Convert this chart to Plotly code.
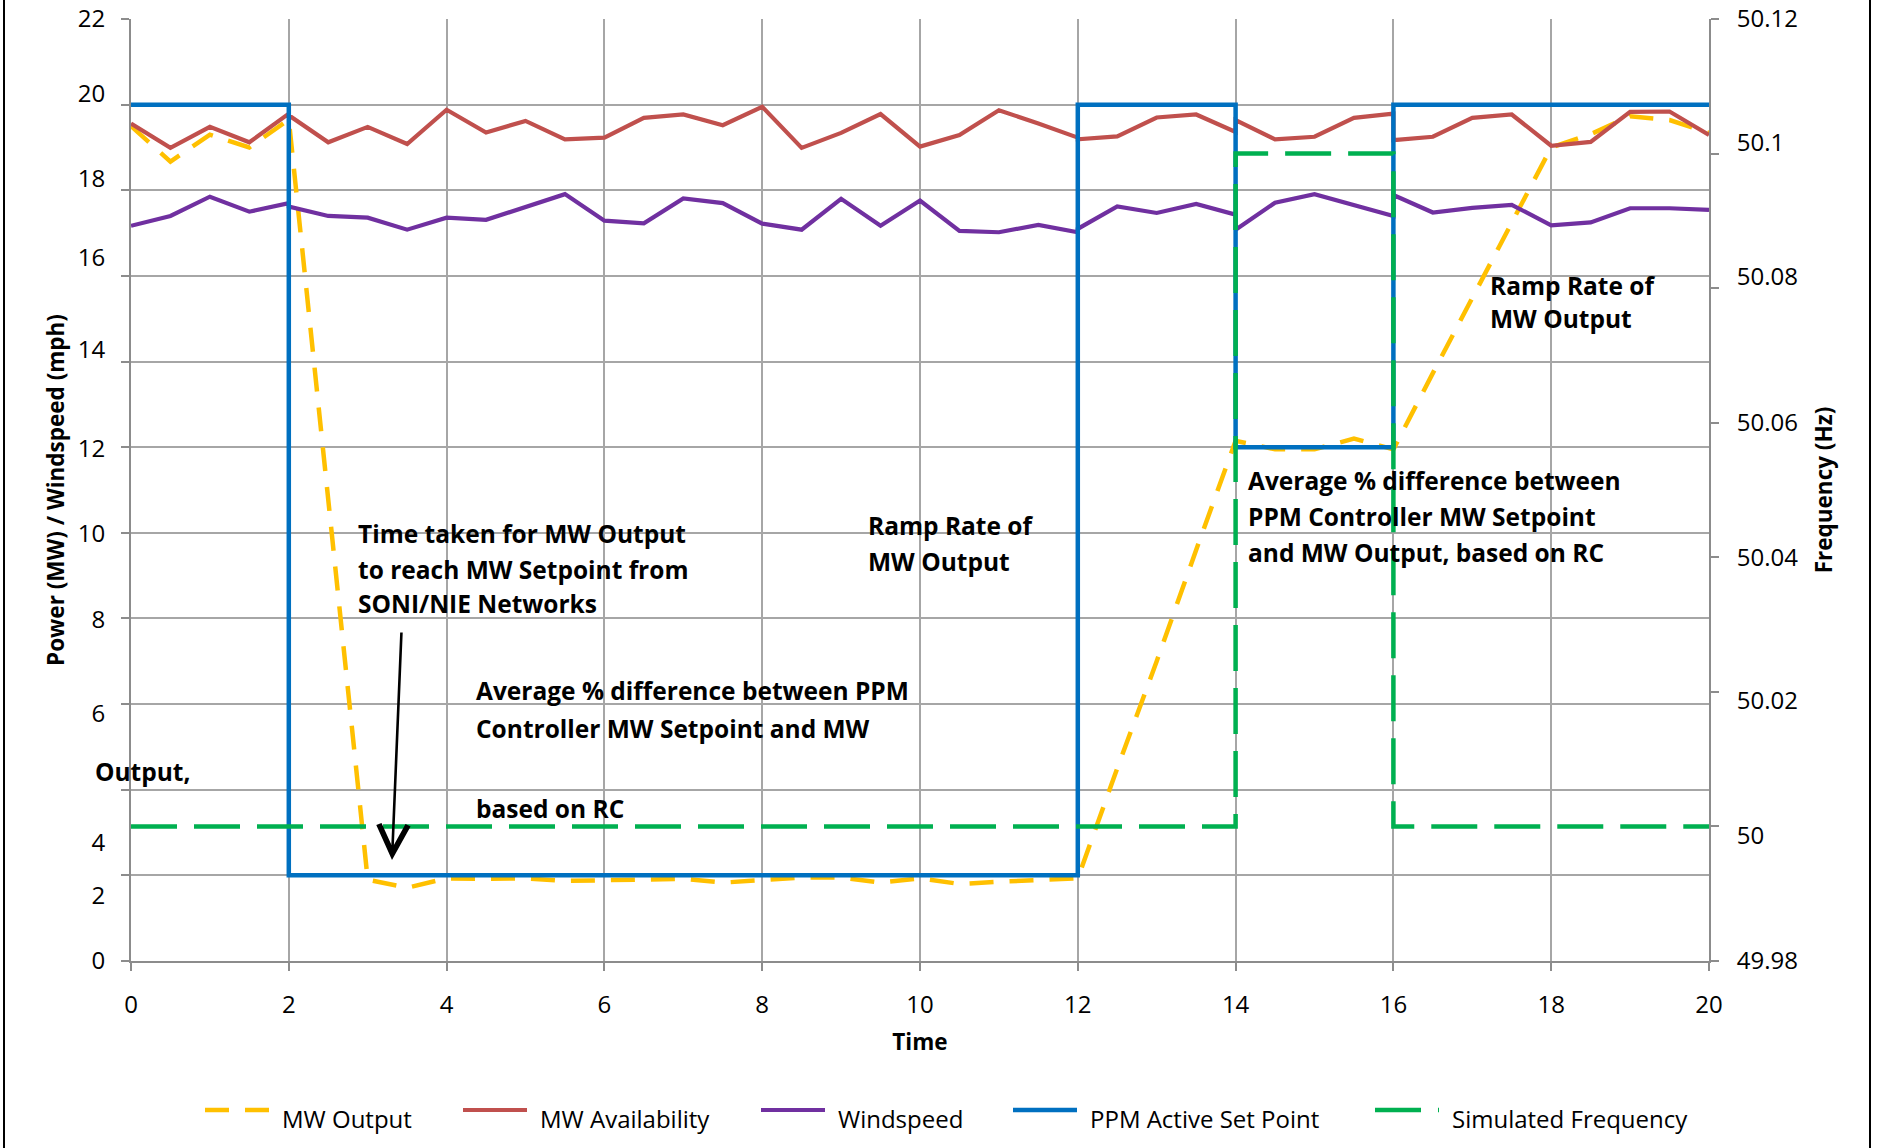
import plotly.graph_objects as go

# ---------------- data ----------------
time = [0, 0.5, 1, 1.5, 2, 2, 2.5, 3, 3.5, 4, 4.5, 5, 5.5, 6, 6.5, 7, 7.5, 8, 8.5, 9,
        9.5, 10, 10.5, 11, 11.5, 12, 12, 12.5, 13, 13.5, 14, 14, 14.5, 15, 15.5, 16, 16,
        16.5, 17, 17.5, 18, 18.5, 19, 19.5, 20]

mw_output = [19.50, 18.67, 19.30, 19.00, 19.65, 19.65, 10.80, 1.90, 1.71, 1.93, 1.92,
             1.93, 1.87, 1.89, 1.91, 1.92, 1.83, 1.89, 1.95, 1.95, 1.83, 1.93, 1.80, 1.85,
             1.89, 1.93, 1.93, 4.50, 7.00, 9.60, 12.15, 12.15, 11.95, 11.95, 12.20, 11.95,
             11.95, 13.73, 15.49, 17.20, 19.00, 19.31, 19.73, 19.64, 19.34]

mw_availability = [19.56, 18.99, 19.48, 19.12, 19.79, 19.75, 19.12, 19.48, 19.08, 19.88,
                   19.35, 19.62, 19.19, 19.23, 19.69, 19.77, 19.52, 19.95, 18.99, 19.34,
                   19.78, 19.02, 19.29, 19.87, 19.56, 19.23, 19.19, 19.26, 19.70, 19.77,
                   19.36, 19.64, 19.19, 19.25, 19.69, 19.79, 19.17, 19.25, 19.69, 19.77,
                   19.04, 19.13, 19.83, 19.84, 19.29]

windspeed = [17.17, 17.40, 17.85, 17.50, 17.70, 17.62, 17.40, 17.36, 17.08, 17.36, 17.31,
             17.60, 17.91, 17.29, 17.23, 17.81, 17.70, 17.22, 17.08, 17.80, 17.17, 17.76,
             17.05, 17.02, 17.19, 17.02, 17.10, 17.62, 17.47, 17.68, 17.43, 17.08, 17.71,
             17.91, 17.66, 17.40, 17.89, 17.48, 17.59, 17.66, 17.18, 17.25, 17.58, 17.58,
             17.54]

ppm_set_point = [20, 20, 20, 20, 20, 2, 2, 2, 2, 2, 2, 2, 2, 2, 2, 2, 2, 2, 2, 2, 2, 2, 2,
                 2, 2, 2, 20, 20, 20, 20, 20, 12, 12, 12, 12, 12, 20, 20, 20, 20, 20, 20,
                 20, 20, 20]

simulated_frequency = [50, 50, 50, 50, 50, 50, 50, 50, 50, 50, 50, 50, 50, 50, 50, 50, 50,
                       50, 50, 50, 50, 50, 50, 50, 50, 50, 50, 50, 50, 50, 50, 50.1, 50.1,
                       50.1, 50.1, 50.1, 50, 50, 50, 50, 50, 50, 50, 50, 50]

x_ticks = [0, 2, 4, 6, 8, 10, 12, 14, 16, 18, 20]
y_ticks = [0, 2, 4, 6, 8, 10, 12, 14, 16, 18, 20, 22]
y_tick_labels = ["0", "2", "4", "6", "8", "10", "12", "14", "16", "18", "20", "22"]
freq_ticks = [49.98, 50, 50.02, 50.04, 50.06, 50.08, 50.1, 50.12]
freq_tick_labels = ["49.98", "50", "50.02", "50.04", "50.06", "50.08", "50.1", "50.12"]

series_names = ["MW Output", "MW Availability", "Windspeed", "PPM Active Set Point",
                "Simulated Frequency"]

# ---------------- styling / layout ----------------
W, H = 1877, 1148
ML, MR, MT, MB = 131, 168, 19, 187
PW, PH = W - ML - MR, H - MT - MB
X_RANGE = [0, 20]
Y_RANGE = [0, 22]
F_RANGE = [49.98, 50.12]
FONT = "Open Sans"
GRID = "#A6A6A6"
AXLINE = "#8C8C8C"

# the source picture prints its tick labels slightly off their gridlines (pixels, + = down)
left_label_shift_px = [0, 20, 53, 10, 1, 1, 1, -12, -18, -12, -11, 0]
right_label_shift_px = [0, 9, 9, 0, 0, -12, -11, 0]

colors = ["#FFC000", "#C0504D", "#7030A0", "#0070C0", "#00B050"]
dashes = ["24px,16px", "solid", "solid", "solid", "46px,17px"]
widths = [4.5, 4.2, 4.2, 4.5, 4.5]
values = [mw_output, mw_availability, windspeed, ppm_set_point, simulated_frequency]
axes = ["y", "y", "y", "y", "y2"]


def px_x(p):
    return (p - ML) / PW


def px_y(p):
    return (H - MB - p) / PH


def data_x(p):
    return X_RANGE[0] + px_x(p) * (X_RANGE[1] - X_RANGE[0])


def data_y(p):
    return Y_RANGE[0] + px_y(p) * (Y_RANGE[1] - Y_RANGE[0])


fig = go.Figure()
for name, vals, c, d, w, ax in zip(series_names, values, colors, dashes, widths, axes):
    fig.add_trace(go.Scatter(x=time, y=vals, name=name, mode="lines", yaxis=ax,
                             line=dict(color=c, dash=d, width=w), showlegend=False))

# empty traces so that the label-only overlay axes get drawn
for ax in ("y3", "y4"):
    fig.add_trace(go.Scatter(x=[], y=[], yaxis=ax, mode="lines", showlegend=False,
                             hoverinfo="skip"))

# ---------------- annotations ----------------
BOLD = dict(family=FONT, size=24.5, color="black", weight=700)
text_lines = [
    ("Time taken for MW Output", 356, 533),
    ("to reach MW Setpoint from", 356, 569),
    ("SONI/NIE Networks", 356, 603),
    ("Ramp Rate of", 866, 525),
    ("MW Output", 866, 561),
    ("Average % difference between PPM", 474, 690),
    ("Controller MW Setpoint and MW", 474, 728),
    ("Output,", 93, 771),
    ("based on RC", 474, 808),
    ("Average % difference between", 1246, 480),
    ("PPM Controller MW Setpoint", 1246, 516),
    ("and MW Output, based on RC", 1246, 552),
    ("Ramp Rate of", 1488, 285),
    ("MW Output", 1488, 318),
]
annotations = []
for t, xp, yp in text_lines:
    annotations.append(dict(text=t, x=px_x(xp), y=px_y(yp), xref="paper", yref="paper",
                            xanchor="left", yanchor="middle", showarrow=False, font=BOLD))

# arrow pointing at the MW setpoint
annotations.append(dict(text="", x=data_x(392), y=data_y(860), xref="x", yref="y",
                        ax=data_x(401.5), ay=data_y(631), axref="x", ayref="y",
                        showarrow=True, arrowhead=5, arrowsize=2.2, arrowwidth=2.6,
                        arrowcolor="black", standoff=0, startstandoff=0))

# legend row
legend_x = [205, 463, 761, 1013, 1375]
legend_y = 1110
shapes = []
for name, c, d, w, lx in zip(series_names, colors, dashes, widths, legend_x):
    shapes.append(dict(type="line", xref="paper", yref="paper",
                       x0=px_x(lx), x1=px_x(lx + 64), y0=px_y(legend_y), y1=px_y(legend_y),
                       line=dict(color=c, dash=d, width=w)))
    annotations.append(dict(text=name, x=px_x(lx + 75), y=px_y(1118), xref="paper",
                            yref="paper", xanchor="left", yanchor="middle", showarrow=False,
                            font=dict(family=FONT, size=24, color="black")))

# outer frame lines
for xp in (4, 1870):
    shapes.append(dict(type="line", xref="paper", yref="paper", x0=px_x(xp), x1=px_x(xp),
                       y0=px_y(0), y1=px_y(H), line=dict(color="black", width=2)))

tickfont = dict(family=FONT, size=24, color="black")
titlefont = dict(family=FONT, size=22.5, color="black", weight=700)
y_per_px = (Y_RANGE[1] - Y_RANGE[0]) / PH
f_per_px = (F_RANGE[1] - F_RANGE[0]) / PH
left_label_pos = [v - s * y_per_px for v, s in zip(y_ticks, left_label_shift_px)]
right_label_pos = [v - s * f_per_px for v, s in zip(freq_ticks, right_label_shift_px)]

common = dict(zeroline=False, showline=True, linecolor=AXLINE, linewidth=1.5,
              ticks="outside", ticklen=8, tickcolor=AXLINE, tickwidth=1.5)
label_only = dict(anchor="x", showgrid=False, zeroline=False, showline=False,
                  ticks="outside", ticklen=8, tickcolor="rgba(0,0,0,0)", tickfont=tickfont)

fig.update_layout(
    width=W, height=H,
    margin=dict(l=ML, r=MR, t=MT, b=MB, autoexpand=False),
    paper_bgcolor="white", plot_bgcolor="white",
    font=dict(family=FONT, color="black"),
    xaxis=dict(range=X_RANGE, tickvals=x_ticks, showgrid=True, gridcolor=GRID,
               gridwidth=1.5, tickfont=tickfont, ticklabelstandoff=13,
               title=dict(text="Time", font=titlefont, standoff=16), **common),
    yaxis=dict(range=Y_RANGE, tickvals=y_ticks, showgrid=True, gridcolor=GRID,
               gridwidth=1.5, showticklabels=False, **common),
    yaxis3=dict(range=Y_RANGE, overlaying="y", side="left", tickvals=left_label_pos,
                ticktext=y_tick_labels, ticklabelstandoff=12,
                title=dict(text="Power (MW) / Windspeed (mph)", font=titlefont, standoff=6),
                **label_only),
    yaxis2=dict(range=F_RANGE, overlaying="y", side="right", tickvals=freq_ticks,
                showgrid=False, showticklabels=False, **common),
    yaxis4=dict(range=F_RANGE, overlaying="y", side="right", tickvals=right_label_pos,
                ticktext=freq_tick_labels, ticklabelstandoff=14,
                title=dict(text="Frequency (Hz)", font=titlefont, standoff=18),
                **label_only),
    annotations=annotations,
    shapes=shapes,
    showlegend=False,
)

fig.write_html("out.html", config={"displayModeBar": False},
               post_script="document.body.style.margin='0px';")
